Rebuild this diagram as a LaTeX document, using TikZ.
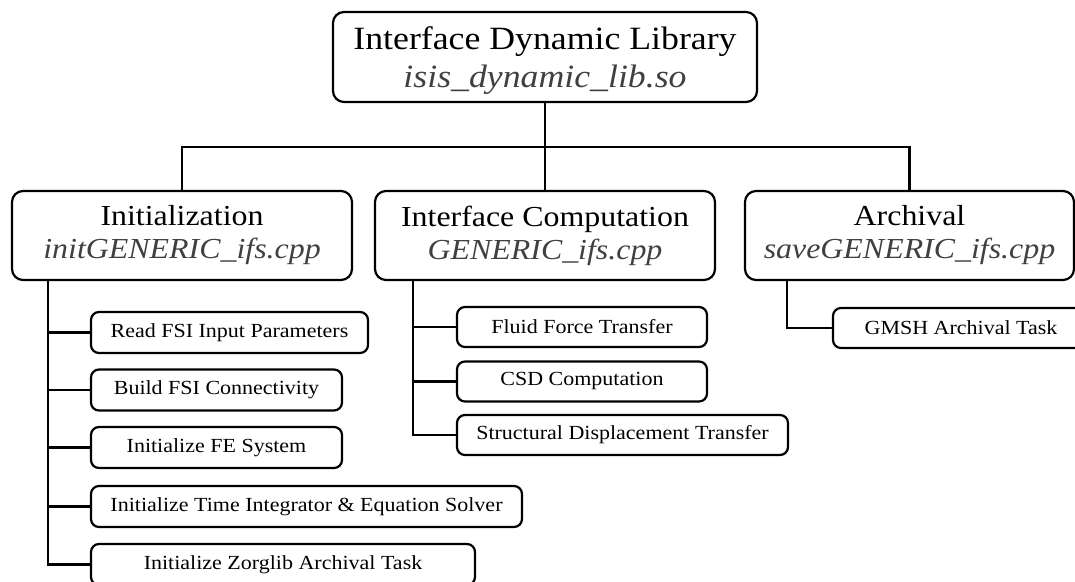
\documentclass[tikz,border=0pt]{standalone}
\usepackage{fontspec}
\setmainfont[FakeStretch=1.1]{Liberation Serif}
\begin{document}
\begin{tikzpicture}[x=1pt,y=-1pt,
  line width=2pt,
  bigbox/.style={draw, rounded corners=11pt, line width=2.2pt, align=center, inner sep=0pt},
  subbox/.style={draw, rounded corners=8pt, line width=2.2pt, inner sep=0pt, minimum height=41pt,
    font=\fontsize{20}{23}\selectfont},
  conn/.style={line width=2.4pt}]
\useasboundingbox (0,0) rectangle (1075,581);
\clip (0,0) rectangle (1075,581);
% top
\node[bigbox, minimum width=424pt, minimum height=90pt, font=\fontsize{32.5}{38}\selectfont] (top) at (545,57)
  {\rule{0pt}{31pt}Interface Dynamic Library\\\textcolor{black!75}{\itshape isis\_dynamic\_lib.so}};
% middle
\node[bigbox, minimum width=340pt, minimum height=89pt, font=\fontsize{29}{33}\selectfont] (init) at (182,235.5)
  {Initialization\\\textcolor{black!75}{\itshape initGENERIC\_ifs.cpp}};
\node[bigbox, minimum width=340pt, minimum height=89pt, font=\fontsize{29}{33}\selectfont] (ic) at (545,235.5)
  {Interface Computation\\\textcolor{black!75}{\itshape GENERIC\_ifs.cpp}};
\node[bigbox, minimum width=329pt, minimum height=89pt, font=\fontsize{29}{33}\selectfont] (arch) at (909.5,235.5)
  {Archival\\\textcolor{black!75}{\itshape saveGENERIC\_ifs.cpp}};
\coordinate (j) at (545,147);
\draw[conn] (top.south) -- (ic.north);
\draw[conn] (init.north) |- (j) -| (arch.north);
% init subtree
\node[subbox, minimum width=277pt] (s1) at (229.5,332.5) {Read FSI Input Parameters};
\node[subbox, minimum width=251pt] (s2) at (216.5,390) {Build FSI Connectivity};
\node[subbox, minimum width=251pt] (s3) at (216.5,447.5) {Initialize FE System};
\node[subbox, minimum width=431pt] (s4) at (306.5,506.5) {Initialize Time Integrator \& Equation Solver};
\node[subbox, minimum width=384pt] (s5) at (283,564.5) {Initialize Zorglib Archival Task};
\coordinate (itr) at (48,280);
\draw[conn] (itr) |- (s5.west);
\foreach \s in {s1,s2,s3,s4} \draw[conn] (\s.west) -- (\s.west -| itr);
% ic subtree
\node[subbox, minimum width=250pt, minimum height=40pt] (c1) at (582,327) {Fluid Force Transfer};
\node[subbox, minimum width=250pt, minimum height=40pt] (c2) at (582,381.5) {CSD Computation};
\node[subbox, minimum width=331pt, minimum height=40pt] (c3) at (622.5,435) {Structural Displacement Transfer};
\coordinate (ctr) at (413,280);
\draw[conn] (ctr) |- (c3.west);
\foreach \s in {c1,c2} \draw[conn] (\s.west) -- (\s.west -| ctr);
% archival subtree
\node[subbox, minimum width=256pt, minimum height=40pt] (a1) at (961,328) {GMSH Archival Task};
\coordinate (atr) at (787,280);
\draw[conn] (atr) |- (a1.west);
\end{tikzpicture}
\end{document}
